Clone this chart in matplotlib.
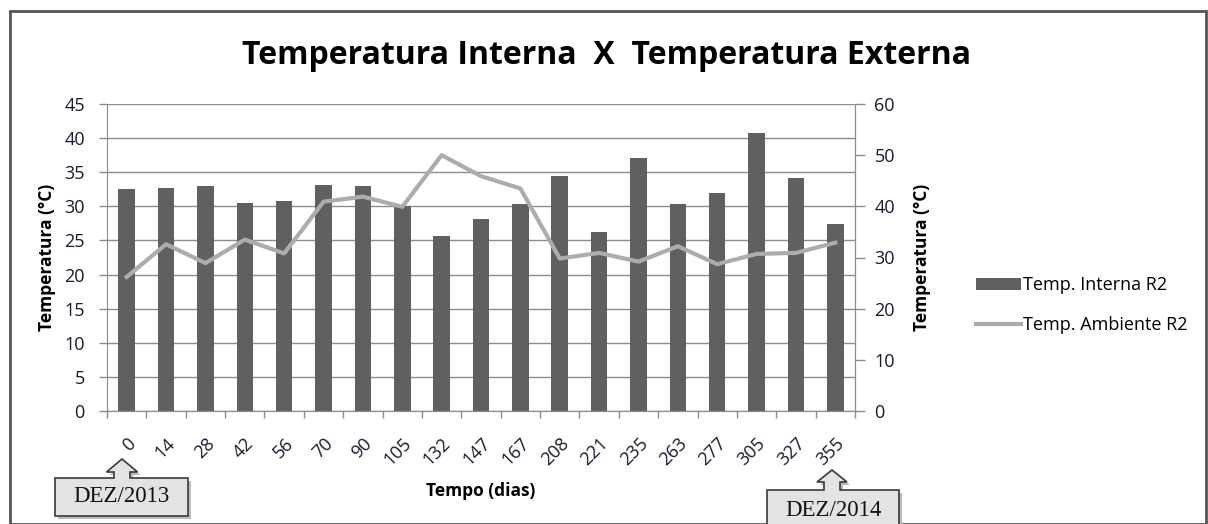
import matplotlib
matplotlib.use("Agg")
import matplotlib.pyplot as plt
from matplotlib.patches import Polygon, Rectangle
import numpy as np

plt.rcParams['font.family'] = ['Open Sans', 'DejaVu Sans']

# Dados
dias = ["0", "14", "28", "42", "56", "70", "90", "105", "132", "147",
        "167", "208", "221", "235", "263", "277", "305", "327", "355"]
temp_interna = [32.5, 32.7, 33.0, 30.5, 30.8, 33.2, 33.0, 30.0, 25.7, 28.1,
                30.3, 34.4, 26.2, 37.1, 30.3, 32.0, 40.7, 34.2, 27.4]
temp_ambiente = [26.2, 32.6, 28.9, 33.5, 30.8, 40.9, 41.9, 39.9, 50.0, 45.9,
                 43.5, 29.8, 30.9, 29.2, 32.2, 28.7, 30.7, 30.9, 32.9]

W, H = 1208, 524
fig = plt.figure(figsize=(W / 100, H / 100), dpi=100)

# area do grafico (pixels)
x0, x1, y0, y1 = 107, 855, 104, 411
ax = fig.add_axes([x0 / W, 1 - y1 / H, (x1 - x0) / W, (y1 - y0) / H])
ax2 = ax.twinx()

x = np.arange(len(dias))
grid_c = "#8c8c8c"
txt_c = "#1a1a2e"

ax.set_axisbelow(True)
ax.yaxis.grid(True, color=grid_c, linewidth=1)
bars = ax.bar(x, temp_interna, width=0.42, color="#606060", zorder=2,
              label="Temp. Interna R2")
line, = ax2.plot(x, temp_ambiente, color="#acacac", linewidth=3,
                 label="Temp. Ambiente R2", zorder=3)
ax.set_zorder(1)
ax2.set_zorder(2)
ax.patch.set_visible(False)

ax.set_xlim(-0.5, len(dias) - 0.5)
ax.set_ylim(0, 45)
ax.set_yticks(range(0, 46, 5))
ax2.set_ylim(0, 60)
ax2.set_yticks(range(0, 61, 10))

for a in (ax, ax2):
    a.spines["top"].set_visible(False)
    a.spines["left"].set_color(grid_c)
    a.spines["right"].set_color(grid_c)
    a.spines["bottom"].set_color(grid_c)
ax2.spines["left"].set_visible(False)

ax.tick_params(axis="y", colors=grid_c, labelcolor=txt_c, labelsize=13,
               length=6, width=1, pad=10)
ax2.tick_params(axis="y", colors=grid_c, labelcolor=txt_c, labelsize=13,
                length=7, width=1, pad=7)

# ticks do eixo x nas fronteiras das categorias
ax.set_xticks(np.arange(-0.5, len(dias), 1.0))
ax.set_xticklabels([])
ax.tick_params(axis="x", colors=grid_c, length=5, width=1)
ax.set_xticks(x, minor=True)
ax.set_xticklabels(dias, minor=True, rotation=45, ha="right",
                   rotation_mode="anchor", fontsize=13, color=txt_c)
ax.tick_params(axis="x", which="minor", length=0, pad=17)

ax.set_ylabel("Temperatura (°C)", fontsize=12.5, fontweight="bold", labelpad=6)
ax2.set_ylabel("Temperatura (°C)", fontsize=12.5, fontweight="bold", labelpad=13)
ax.set_xlabel("Tempo (dias)", fontsize=12.5, fontweight="bold", labelpad=9)

fig.text(607 / W, 1 - 56 / H, "Temperatura Interna  X  Temperatura Externa",
         ha="center", va="center", fontsize=23, fontweight="bold")

leg = fig.legend(handles=[bars, line], loc="center left",
                 bbox_to_anchor=(960 / W, 1 - 305 / H), frameon=False,
                 fontsize=13, handlelength=2.5, handletextpad=0.1,
                 labelspacing=1.2)

# moldura externa
fig.patches.append(Rectangle((10 / W, 0), (1206 - 10) / W, 1 - 11 / H,
                             transform=fig.transFigure, fill=False,
                             edgecolor="#555555", linewidth=2))


def callout(label, bx0, bx1, by0, by1, tipx, tipy, headw, headh, shaftw):
    # caixa com seta para cima (coordenadas em pixels)
    cx = tipx
    pts = [(bx0, by0), (cx - shaftw / 2, by0), (cx - shaftw / 2, tipy + headh),
           (cx - headw / 2, tipy + headh), (cx, tipy),
           (cx + headw / 2, tipy + headh), (cx + shaftw / 2, tipy + headh),
           (cx + shaftw / 2, by0), (bx1, by0), (bx1, by1), (bx0, by1)]
    shadow = [(px + 3, py + 3) for px, py in pts]
    fpts = [(px / W, 1 - py / H) for px, py in pts]
    fsh = [(px / W, 1 - py / H) for px, py in shadow]
    fig.patches.append(Polygon(fsh, closed=True, transform=fig.transFigure,
                               facecolor="#bbbbbb", edgecolor="none"))
    fig.patches.append(Polygon(fpts, closed=True, transform=fig.transFigure,
                               facecolor="#e3e3e3", edgecolor="#3a3a3a",
                               linewidth=1.2))
    fig.text((bx0 + bx1) / 2 / W, 1 - (by0 + by1) / 2 / H, label,
             ha="center", va="center", fontsize=16.5,
             family="Liberation Serif", color="#111111")


callout("DEZ/2013", 55, 188, 478, 516, 122, 459, 31, 13, 16)
callout("DEZ/2014", 767, 899, 490, 532, 832, 470, 30, 12, 16)

fig.savefig("out.png", dpi=100)
